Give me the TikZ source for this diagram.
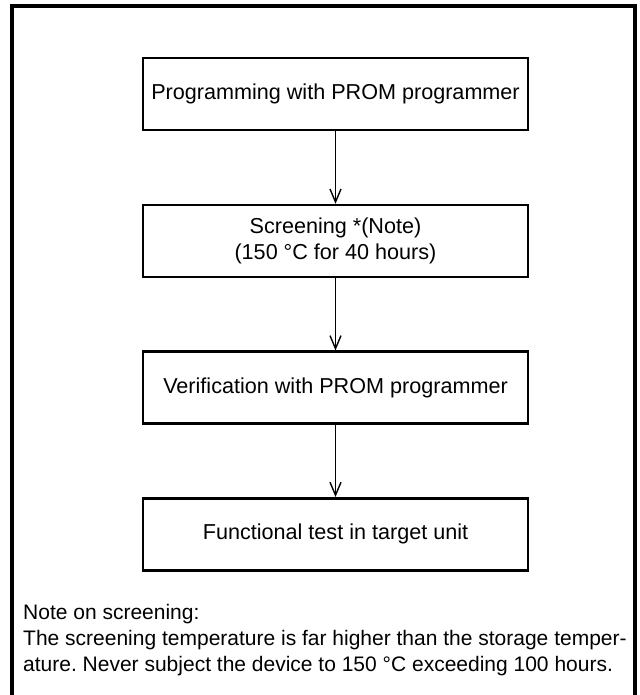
\documentclass[tikz,border=0pt]{standalone}
\usepackage{fontspec}
\setmainfont{Liberation Sans}
\usetikzlibrary{positioning,arrows.meta}
\frenchspacing

\begin{document}
\begin{tikzpicture}[
  x=1pt,y=1pt,
  font=\fontsize{21}{26}\selectfont,
  step box/.style={draw,line width=2.6pt,minimum width=385pt,minimum height=72pt,
                   align=center,inner sep=0pt,font=\fontsize{21.6}{26.6}\selectfont},
  flow/.style={-{Straight Barb[length=13pt,width=11pt,line width=1.4pt]},line width=1.6pt},
  frame/.style={line width=4pt}
]
\useasboundingbox (0,0) rectangle (639,-695);

% ==========  Frame  ==========
\draw[frame] (12,-700) -- (12,-6) -- (635,-6) -- (635,-700);

% ==========  Flow steps  ==========
\node[step box] (prog) at (335.5,-94) {Programming with PROM programmer};
\node[step box,below=72.5pt of prog] (scr)
  {Screening *(Note)\\(150 \textdegree C for 40 hours)};
\node[step box,below=72pt of scr] (ver) {Verification with PROM programmer};
\node[step box,below=72pt of ver] (func) {Functional test in target unit};

\draw[flow] (prog) -- (scr);
\draw[flow] (scr) -- (ver);
\draw[flow] (ver) -- (func);

% ==========  Note  ==========
\node[anchor=base west,align=left,inner sep=0pt] (note) at (23,-671)
  {Note on screening:\\
   The screening temperature is far higher than the storage temper-\\
   ature. Never subject the device to 150 \textdegree C exceeding 100 hours.};

\end{tikzpicture}
\end{document}
